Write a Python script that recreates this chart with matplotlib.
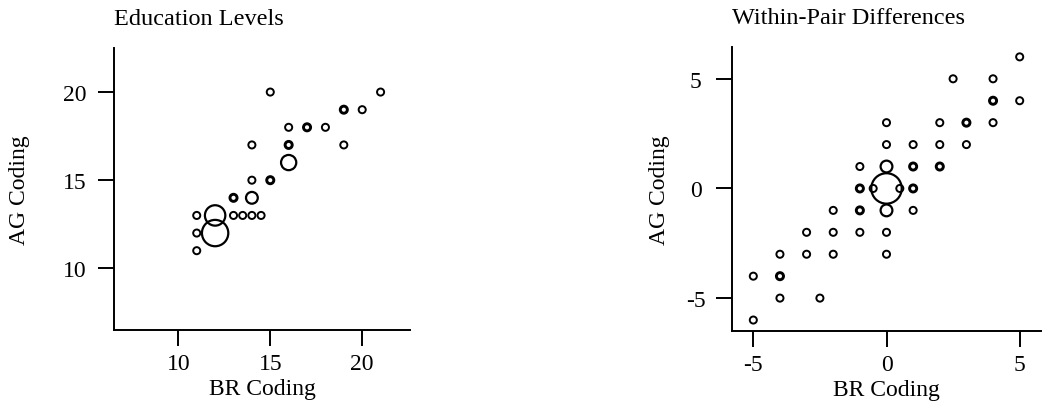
import matplotlib
matplotlib.use('Agg')
import matplotlib.pyplot as plt
import numpy as np

plt.rcParams['font.family'] = ['Liberation Serif', 'DejaVu Serif']
plt.rcParams['axes.unicode_minus'] = False

# Education levels: BR coding vs AG coding, n = cases at that point
edu_br = [15, 21, 19, 20, 16, 17, 18, 14, 16, 19, 16, 14, 15, 13, 14,
          11, 12, 13, 13.5, 14, 14.5, 11, 12, 11]
edu_ag = [20, 20, 19, 19, 18, 18, 18, 17, 17, 17, 16, 15, 15, 14, 14,
          13, 13, 13, 13, 13, 13, 12, 12, 11]
edu_n = [1, 1, 2, 1, 1, 2, 1, 1, 2, 1, 5, 1, 2, 2, 3,
         1, 9, 1, 1, 1, 1, 1, 15, 1]

# Within-pair differences
dif_br = [5, 2.5, 4, 4, 5, 0, 2, 3, 4, 0, 1, 2, 3,
          -1, 0, 1, 2, -1, -0.5, 0, 0.5, 1,
          -2, -1, 0, 1, -3, -2, -1, 0, -4, -3, -2, 0,
          -5, -4, -4, -2.5, -5]
dif_ag = [6, 5, 5, 4, 4, 3, 3, 3, 3, 2, 2, 2, 2,
          1, 1, 1, 1, 0, 0, 0, 0, 0,
          -1, -1, -1, -1, -2, -2, -2, -2, -3, -3, -3, -3,
          -4, -4, -5, -5, -6]
dif_n = [1, 1, 1, 2, 1, 1, 1, 2, 1, 1, 1, 1, 1,
         1, 3, 2, 2, 2, 1, 20, 1, 2,
         1, 2, 3, 1, 1, 1, 1, 1, 1, 1, 1, 1,
         1, 2, 1, 1, 1]

FS = 17


def bubbles(ax, x, y, n):
    n = np.array(n, dtype=float)
    s = np.where(n >= 3, 24 * n, 26)
    lw = np.where(n == 2, 2.1, np.where(n >= 3, 1.6, 1.4))
    ax.scatter(x, y, s=s, facecolors='none', edgecolors='black',
               linewidths=lw, clip_on=False, zorder=3)


def style(ax, ypad):
    for side in ['top', 'right']:
        ax.spines[side].set_visible(False)
    for side in ['left', 'bottom']:
        ax.spines[side].set_linewidth(1.4)
    ax.tick_params(axis='both', direction='out', length=11.5, width=1.4,
                   labelsize=FS)
    ax.tick_params(axis='x', pad=5)
    ax.tick_params(axis='y', pad=ypad)
    for lab in ax.get_yticklabels():
        lab.set_horizontalalignment('center')


fig = plt.figure(figsize=(10.42, 4.06), dpi=100)

ax1 = fig.add_axes([114 / 1042, 1 - 331 / 406, 296 / 1042, 282 / 406])
bubbles(ax1, edu_br, edu_ag, edu_n)
ax1.set_xlim(6.5, 22.6)
ax1.set_ylim(6.5, 22.5)
ax1.set_xticks([10, 15, 20])
ax1.set_yticks([10, 15, 20])
style(ax1, 17)
ax1.set_title('Education Levels', loc='left', pad=17, fontsize=17.5)
ax1.set_xlabel('BR Coding', fontsize=FS, labelpad=3)
ax1.set_ylabel('AG Coding', fontsize=FS, va='center')
ax1.yaxis.set_label_coords(-94 / 296, 0.5)

ax2 = fig.add_axes([732 / 1042, 1 - 332 / 406, 309 / 1042, 284 / 406])
bubbles(ax2, dif_br, dif_ag, dif_n)
ax2.set_xlim(-5.8, 5.8)
ax2.set_ylim(-6.5, 6.45)
ax2.set_xticks([-5, 0, 5])
ax2.set_yticks([-5, 0, 5])
style(ax2, 14.5)
ax2.set_title('Within-Pair Differences', loc='left', pad=17, fontsize=17.5)
ax2.set_xlabel('BR Coding', fontsize=FS, labelpad=3)
ax2.set_ylabel('AG Coding', fontsize=FS, va='center')
ax2.yaxis.set_label_coords(-72 / 309, 0.5)

fig.savefig('out.png', dpi=100)
